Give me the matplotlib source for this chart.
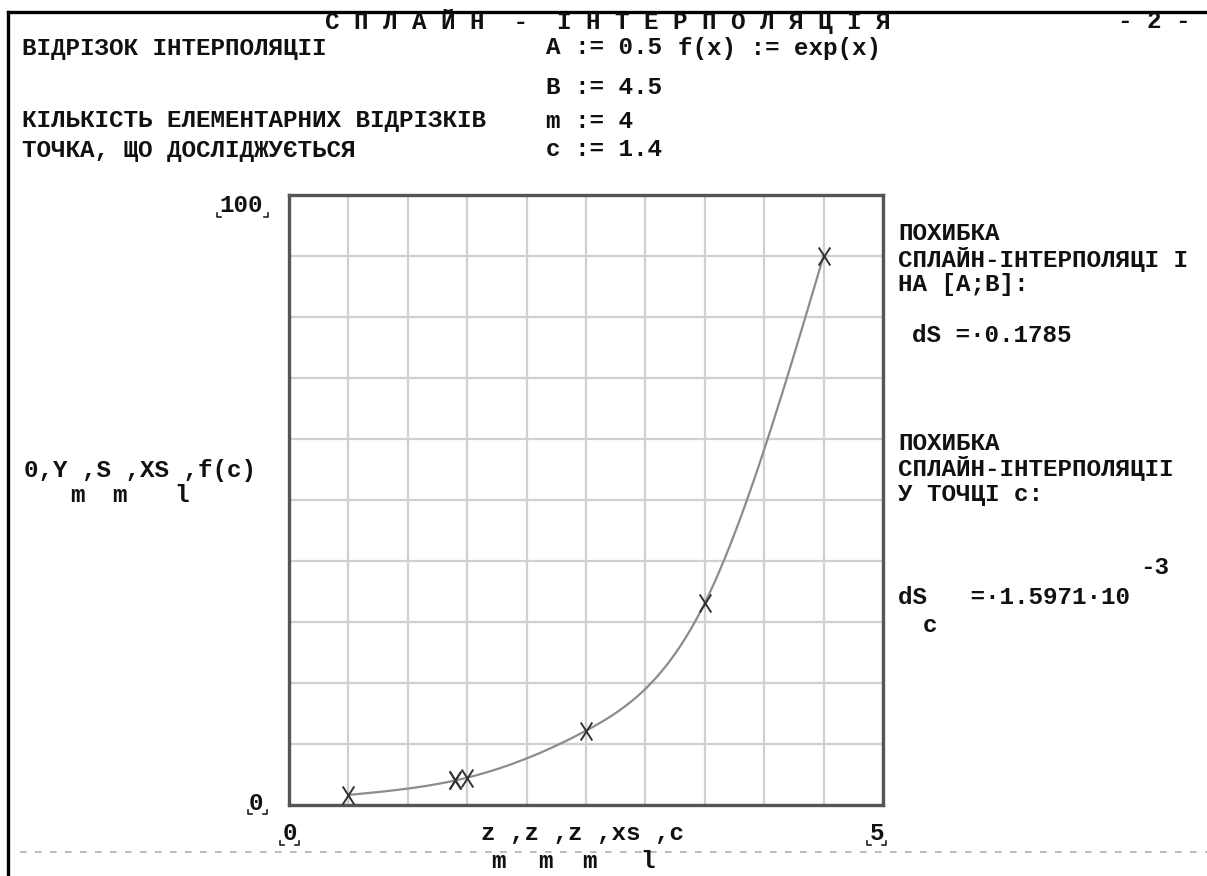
import numpy as np
import matplotlib.pyplot as plt
from matplotlib.lines import Line2D
from matplotlib.path import Path

# interpolation nodes z_m and function values Y_m = f(z_m)
z_nodes = [0.5, 1.5, 2.5, 3.5, 4.5]
y_nodes = [1.6487, 4.4817, 12.1825, 33.1155, 90.0171]
# examined point c and f(c)
c_point = 1.4
fc_value = 4.0552

W, H = 1207, 876
FONT = 'Liberation Mono'
FS = 17.5

# tall narrow cross, like the letter X
CROSS = Path([(-0.32, -0.5), (0.32, 0.5), (-0.32, 0.5), (0.32, -0.5)],
             [Path.MOVETO, Path.LINETO, Path.MOVETO, Path.LINETO])


def natural_spline(xk, yk, xs):
    xk = np.asarray(xk, float)
    yk = np.asarray(yk, float)
    n = len(xk)
    h = np.diff(xk)
    A = np.zeros((n, n))
    r = np.zeros(n)
    A[0, 0] = A[-1, -1] = 1.0
    for i in range(1, n - 1):
        A[i, i - 1] = h[i - 1]
        A[i, i] = 2 * (h[i - 1] + h[i])
        A[i, i + 1] = h[i]
        r[i] = 6 * ((yk[i + 1] - yk[i]) / h[i] - (yk[i] - yk[i - 1]) / h[i - 1])
    M = np.linalg.solve(A, r)
    idx = np.clip(np.searchsorted(xk, xs) - 1, 0, n - 2)
    x0, x1 = xk[idx], xk[idx + 1]
    hh = x1 - x0
    a = (x1 - xs) / hh
    b = (xs - x0) / hh
    return (a * yk[idx] + b * yk[idx + 1]
            + ((a ** 3 - a) * M[idx] + (b ** 3 - b) * M[idx + 1]) * hh ** 2 / 6)


def px_text(x, y, s, size=FS, ha='left', **kw):
    fig.text(x / W, 1 - y / H, s, ha=ha, va='center', fontsize=size,
             family=FONT, fontweight='bold', color='#111', **kw)


def px_line(xs, ys, **kw):
    fig.add_artist(Line2D([x / W for x in xs], [1 - y / H for y in ys],
                          transform=fig.transFigure, **kw))


def corner_marks(x0, x1, y):
    # small placeholder brackets under a number
    for xa, dx in ((x0, 4), (x1, -4)):
        px_line([xa, xa, xa + dx], [y - 4, y, y], color='#222', lw=1.2)


fig = plt.figure(figsize=(W / 100, H / 100), dpi=100)
ax = fig.add_axes([289 / W, 1 - 805 / H, (883 - 289) / W, (805 - 195) / H])

xs = np.linspace(z_nodes[0], z_nodes[-1], 400)
ax.plot(xs, natural_spline(z_nodes, y_nodes, xs), color='#8c8c8c', lw=1.6, zorder=3)
s_c = natural_spline(z_nodes, y_nodes, np.array([c_point]))[0]
ax.plot(z_nodes, y_nodes, ls='none', marker=CROSS, ms=13, mew=1.4, color='#333', zorder=4)
ax.plot([c_point, c_point], [s_c, fc_value], ls='none', marker=CROSS, ms=13, mew=1.4,
        color='#333', zorder=4)

ax.set_xlim(0, 5)
ax.set_ylim(0, 100)
ax.set_xticks(np.arange(0, 5.01, 0.5))
ax.set_yticks(np.arange(0, 100.1, 10))
ax.tick_params(length=0, labelbottom=False, labelleft=False)
ax.grid(True, color='#d0d0d0', lw=1.6)
for sp in ax.spines.values():
    sp.set_color('#555')
    sp.set_linewidth(2.4)

# page frame and dashed separator
px_line([8, W], [12, 12], color='black', lw=2.4)
px_line([8, 8], [12, H], color='black', lw=2.4)
px_line([20, W], [852, 852], color='#b0b0b0', lw=1.2, ls=(0, (4, 5)))

# header block
px_text(325, 21, 'С П Л А Й Н  -  І Н Т Е Р П О Л Я Ц І Я')
px_text(1190, 21, '- 2 -', ha='right')
px_text(22, 48, 'ВІДРІЗОК ІНТЕРПОЛЯЦІІ')
px_text(22, 121, 'КІЛЬКІСТЬ ЕЛЕМЕНТАРНИХ ВІДРІЗКІВ')
px_text(22, 150, 'ТОЧКА, ЩО ДОСЛІДЖУЄТЬСЯ')
px_text(546, 48, 'A := 0.5')
px_text(678, 48, 'f(x) := exp(x)')
px_text(546, 87, 'B := 4.5')
px_text(546, 121, 'm := 4')
px_text(546, 150, 'c := 1.4')

# axis limit labels
px_text(263, 206, '100', ha='right')
corner_marks(217, 268, 217)
px_text(263, 803, '0', ha='right')
corner_marks(248, 267, 814)
px_text(283, 834, '0')
corner_marks(280, 299, 845)
px_text(870, 834, '5')
corner_marks(867, 886, 845)

# axis expressions
px_text(24, 470, '0,Y ,S ,XS ,f(c)')
for sx, sub in ((77, 'm'), (119, 'm'), (182, 'l')):
    px_text(sx, 496, sub, ha='center')
px_text(481, 834, 'z ,z ,z ,xs ,c')
for sx, sub in ((498, 'm'), (545, 'm'), (589, 'm'), (648, 'l')):
    px_text(sx, 862, sub, ha='center')

# error summary
px_text(898, 234, 'ПОХИБКА')
px_text(898, 259, 'СПЛАЙН-ІНТЕРПОЛЯЦІ І')
px_text(898, 284, 'НА [A;B]:')
px_text(912, 336, 'dS =·0.1785')
px_text(898, 443, 'ПОХИБКА')
px_text(898, 469, 'СПЛАЙН-ІНТЕРПОЛЯЦІІ')
px_text(898, 494, 'У ТОЧЦІ c:')
px_text(1140, 567, '-3')
px_text(898, 598, 'dS   =·1.5971·10')
px_text(930, 625, 'c', ha='center')

fig.savefig('out.png', dpi=100)
